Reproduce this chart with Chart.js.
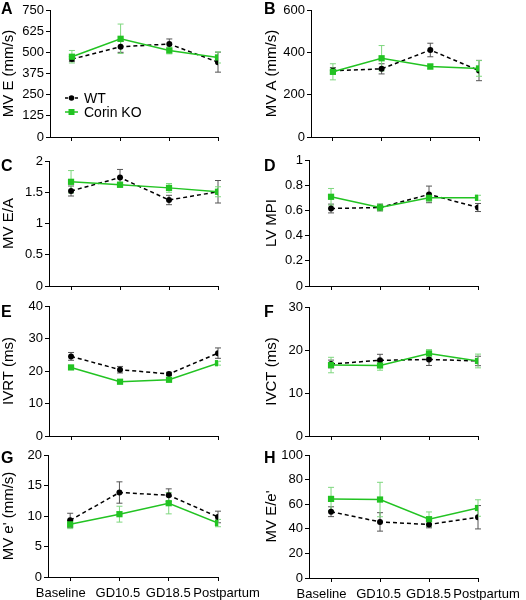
<!DOCTYPE html>
<html>
<head>
<meta charset="utf-8">
<script src="https://cdn.jsdelivr.net/npm/chart.js@4.4.0/dist/chart.umd.min.js"></script>
<style>
  body { margin: 0; background: #fff; }
  #fig { position: relative; width: 526px; height: 600px; }
  #fig canvas { position: absolute; }
</style>
</head>
<body>
<div id="fig"></div>
<script>
// Echo values (mean and error)
const periods = ['Baseline', 'GD10.5', 'GD18.5', 'Postpartum'];

const mvE_wt = [460, 533, 549, 442];
const mvE_wtErr = [15, 33, 30, 59];
const mvE_ko = [474, 580, 511, 470];
const mvE_koErr = [37, 87, 20, 33];

const mvA_wt = [313, 322, 411, 314];
const mvA_wtErr = [15, 24, 32, 48];
const mvA_ko = [308, 372, 333, 324];
const mvA_koErr = [38, 60, 12, 37];

const ea_wt = [1.52, 1.735, 1.376, 1.508];
const ea_wtErr = [0.08, 0.13, 0.075, 0.18];
const ea_ko = [1.667, 1.62, 1.57, 1.508];
const ea_koErr = [0.18, 0.04, 0.07, 0.08];

const mpi_wt = [0.615, 0.623, 0.727, 0.623];
const mpi_wtErr = [0.035, 0.027, 0.066, 0.032];
const mpi_ko = [0.708, 0.623, 0.70, 0.70];
const mpi_koErr = [0.066, 0.027, 0.03, 0.02];

const ivrt_wt = [24.5, 20.4, 19.1, 25.5];
const ivrt_wtErr = [1.2, 1.0, 0.5, 1.6];
const ivrt_ko = [21.1, 16.7, 17.3, 22.4];
const ivrt_koErr = [0.3, 0.5, 0.4, 0.6];

const ivct_wt = [16.75, 17.6, 17.8, 17.45];
const ivct_wtErr = [0.9, 1.4, 1.4, 1.1];
const ivct_ko = [16.5, 16.4, 19.2, 17.45];
const ivct_koErr = [1.8, 1.1, 0.9, 1.6];

const ePrime_wt = [9.3, 13.85, 13.4, 9.84];
const ePrime_wtErr = [1.15, 1.75, 1.05, 0.95];
const ePrime_ko = [8.63, 10.3, 12.1, 8.84];
const ePrime_koErr = [0.7, 1.3, 1.75, 0.6];

const eeRatio_wt = [53.9, 45.6, 43.5, 49.4];
const eeRatio_wtErr = [4, 7.5, 2.7, 9.5];
const eeRatio_ko = [64.3, 63.8, 47.8, 56.9];
const eeRatio_koErr = [9.4, 14, 5.9, 6.7];

const FONT = "'Liberation Sans', Arial, sans-serif";
const GREEN = '#22c322';
const W = 263, H = 150;

const panels = [
  { letter: 'A', title: 'MV E (mm/s)', wt: mvE_wt, wtErr: mvE_wtErr, ko: mvE_ko, koErr: mvE_koErr, max: 750, step: 125,
    col: 0, row: 0, axisX: 50, top: 10, bottom: 137, right: 218, letterY: 13.5, legend: true },
  { letter: 'B', title: 'MV A (mm/s)', wt: mvA_wt, wtErr: mvA_wtErr, ko: mvA_ko, koErr: mvA_koErr, max: 600, step: 200,
    col: 1, row: 0, axisX: 48, top: 10, bottom: 137, right: 216, letterY: 13.5 },
  { letter: 'C', title: 'MV E/A', wt: ea_wt, wtErr: ea_wtErr, ko: ea_ko, koErr: ea_koErr, max: 2, step: 0.5,
    col: 0, row: 1, axisX: 49, top: 11, bottom: 136, right: 218, letterY: 21 },
  { letter: 'D', title: 'LV MPI', wt: mpi_wt, wtErr: mpi_wtErr, ko: mpi_ko, koErr: mpi_koErr, max: 1, step: 0.2,
    col: 1, row: 1, axisX: 46, top: 10, bottom: 136, right: 215, letterY: 21 },
  { letter: 'E', title: 'IVRT (ms)', wt: ivrt_wt, wtErr: ivrt_wtErr, ko: ivrt_ko, koErr: ivrt_koErr, max: 40, step: 10,
    col: 0, row: 2, axisX: 49, top: 6, bottom: 136, right: 218, letterY: 17 },
  { letter: 'F', title: 'IVCT (ms)', wt: ivct_wt, wtErr: ivct_wtErr, ko: ivct_ko, koErr: ivct_koErr, max: 30, step: 10,
    col: 1, row: 2, axisX: 46, top: 7, bottom: 136, right: 215, letterY: 17 },
  { letter: 'G', title: "MV e' (mm/s)", wt: ePrime_wt, wtErr: ePrime_wtErr, ko: ePrime_ko, koErr: ePrime_koErr, max: 20, step: 5,
    col: 0, row: 3, axisX: 48, top: 5, bottom: 127, right: 218, letterY: 13 },
  { letter: 'H', title: "MV E/e'", wt: eeRatio_wt, wtErr: eeRatio_wtErr, ko: eeRatio_ko, koErr: eeRatio_koErr, max: 100, step: 20,
    col: 1, row: 3, axisX: 46, top: 5, bottom: 128, right: 215, letterY: 12.5 }
];

// vertical error bars with caps, drawn under the lines
const errorBars = {
  id: 'errorBars',
  beforeDatasetsDraw(chart) {
    const ctx = chart.ctx;
    const y = chart.scales.y;
    chart.data.datasets.forEach((ds, i) => {
      const meta = chart.getDatasetMeta(i);
      ctx.save();
      ctx.strokeStyle = ds.errorColor;
      ctx.lineWidth = 1;
      meta.data.forEach((pt, j) => {
        const v = ds.data[j].y, e = ds.errors[j];
        const y1 = y.getPixelForValue(v + e);
        const y2 = y.getPixelForValue(v - e);
        ctx.beginPath();
        ctx.moveTo(pt.x, y1); ctx.lineTo(pt.x, y2);
        ctx.moveTo(pt.x - 3, y1); ctx.lineTo(pt.x + 3, y1);
        ctx.moveTo(pt.x - 3, y2); ctx.lineTo(pt.x + 3, y2);
        ctx.stroke();
      });
      ctx.restore();
    });
  }
};

// category labels under the bottom row, nudged apart like the original figure
const periodLabels = {
  id: 'periodLabels',
  afterDraw(chart, args, opts) {
    if (!opts.show) return;
    const nudge = [-9.5, -1.5, -0.5, 8.5];
    const ctx = chart.ctx, x = chart.scales.x;
    ctx.save();
    ctx.font = '13px ' + FONT;
    ctx.fillStyle = '#000';
    ctx.textAlign = 'center';
    ctx.textBaseline = 'middle';
    periods.forEach((label, i) => {
      ctx.fillText(label, x.getPixelForValue(i) + nudge[i], chart.chartArea.bottom + 16);
    });
    ctx.restore();
  }
};

// panel letter + in-plot legend for panel A
const decorations = {
  id: 'decorations',
  afterDraw(chart, args, opts) {
    const ctx = chart.ctx;
    ctx.save();
    ctx.fillStyle = '#000';
    ctx.font = 'bold 16px ' + FONT;
    ctx.textBaseline = 'alphabetic';
    ctx.fillText(opts.letter, 1, opts.letterY);
    if (opts.legend) {
      const rows = [
        { label: 'WT', y: 98, color: '#000', dash: [3, 2], style: 'circle' },
        { label: 'Corin KO', y: 112, color: GREEN, dash: [], style: 'rect' }
      ];
      ctx.font = '14px ' + FONT;
      ctx.textBaseline = 'middle';
      rows.forEach(r => {
        ctx.strokeStyle = r.color;
        ctx.lineWidth = 1.5;
        ctx.setLineDash(r.dash);
        ctx.beginPath(); ctx.moveTo(65, r.y); ctx.lineTo(78, r.y); ctx.stroke();
        ctx.setLineDash([]);
        ctx.fillStyle = r.color;
        if (r.style === 'circle') {
          ctx.beginPath(); ctx.arc(71.5, r.y, 2.8, 0, Math.PI * 2); ctx.fill();
        } else {
          ctx.fillRect(68.5, r.y - 3, 6, 6);
        }
        ctx.fillStyle = '#000';
        ctx.fillText(r.label, 84, r.y + 1);
      });
    }
    ctx.restore();
  }
};

const fig = document.getElementById('fig');

panels.forEach(p => {
  const canvas = document.createElement('canvas');
  canvas.width = W;
  canvas.height = H;
  canvas.style.left = (p.col * W) + 'px';
  canvas.style.top = (p.row * H) + 'px';
  fig.appendChild(canvas);

  new Chart(canvas, {
    type: 'line',
    data: {
      datasets: [
        {
          label: 'WT',
          data: p.wt.map((y, i) => ({ x: i, y })),
          errors: p.wtErr,
          errorColor: '#555',
          borderColor: '#000',
          backgroundColor: '#000',
          borderWidth: 1.5,
          borderDash: [4, 3],
          pointStyle: 'circle',
          pointRadius: 3,
          pointBorderWidth: 0,
          order: 1
        },
        {
          label: 'Corin KO',
          data: p.ko.map((y, i) => ({ x: i, y })),
          errors: p.koErr,
          errorColor: '#7fd77f',
          borderColor: GREEN,
          backgroundColor: GREEN,
          borderWidth: 1.5,
          pointStyle: 'rect',
          pointRadius: 4.4,
          pointBorderWidth: 0,
          order: 0
        }
      ]
    },
    options: {
      responsive: false,
      animation: false,
      devicePixelRatio: 1,
      layout: { padding: { left: 0, right: W - p.right, top: p.top, bottom: 0 } },
      plugins: {
        legend: { display: false },
        tooltip: { enabled: false },
        decorations: { letter: p.letter, letterY: p.letterY, legend: !!p.legend },
        periodLabels: { show: p.row === 3 }
      },
      scales: {
        x: {
          type: 'linear',
          min: -0.45,
          max: 3,
          afterBuildTicks: s => { s.ticks = periods.map((_, i) => ({ value: i })); },
          afterFit: s => { s.height = H - p.bottom; s.paddingLeft = 0; s.paddingRight = 0; },
          ticks: { display: false },
          grid: { drawOnChartArea: false, color: '#000', tickLength: 4 },
          border: { color: '#000', width: 1 }
        },
        y: {
          min: 0,
          max: p.max,
          afterFit: s => { s.width = p.axisX; s.paddingTop = 0; s.paddingBottom = 0; },
          ticks: {
            stepSize: p.step,
            callback: v => String(+v.toFixed(2)),
            font: { family: FONT, size: 13 },
            color: '#000',
            padding: 2
          },
          grid: { drawOnChartArea: false, color: '#000', tickLength: 4 },
          border: { color: '#000', width: 1 },
          title: { display: true, text: p.title, font: { family: FONT, size: 15 }, color: '#000', padding: 0 }
        }
      }
    },
    plugins: [errorBars, periodLabels, decorations]
  });
});
</script>
</body>
</html>
